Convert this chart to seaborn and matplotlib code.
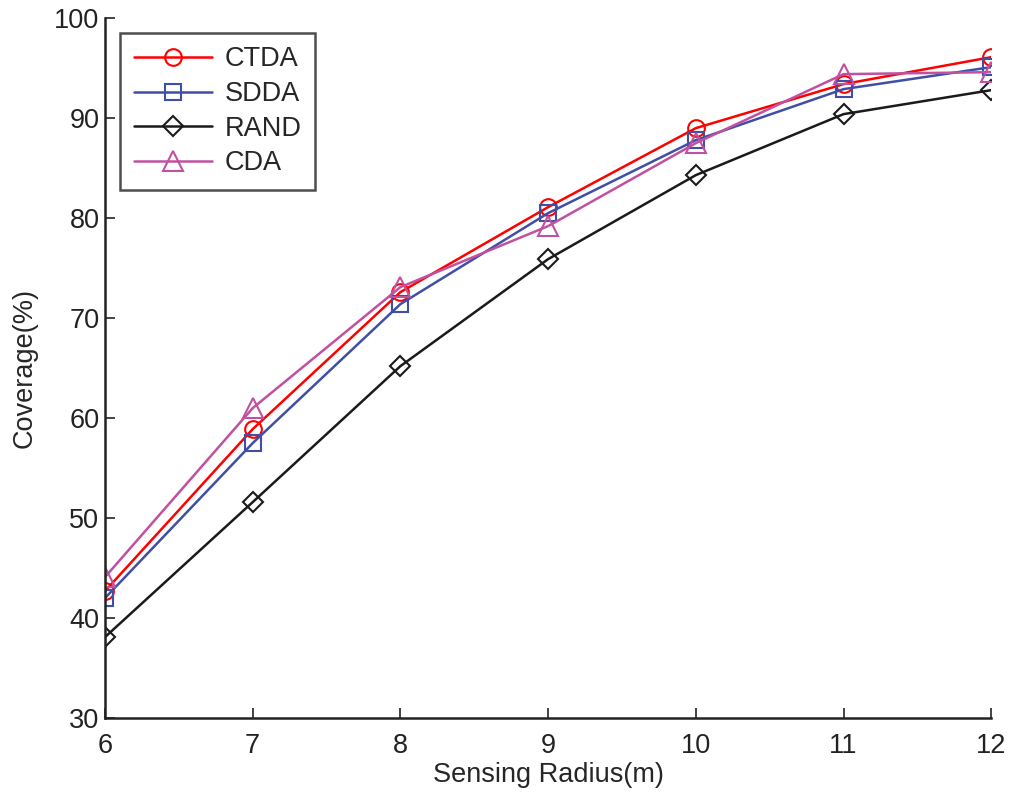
import matplotlib
matplotlib.use("Agg")
import matplotlib.pyplot as plt
import seaborn as sns
import pandas as pd

radius = [6, 7, 8, 9, 10, 11, 12]
ctda = [42.7, 58.9, 72.6, 81.1, 89.0, 93.4, 96.1]
sdda = [42.0, 57.5, 71.4, 80.5, 87.8, 92.9, 95.1]
rand = [38.1, 51.6, 65.2, 75.9, 84.3, 90.4, 92.8]
cda = [44.1, 61.0, 73.1, 79.2, 87.5, 94.4, 94.6]

names = ["CTDA", "SDDA", "RAND", "CDA"]
colors = ["#ff0000", "#3f4fa5", "#1a1a1a", "#c250a0"]
markers = ["o", "s", "D", "^"]
sizes = [12, 12, 10, 14]

df = pd.DataFrame({"radius": radius, "CTDA": ctda, "SDDA": sdda, "RAND": rand, "CDA": cda})

sns.set_style("ticks")
plt.rcParams["font.family"] = ["Liberation Sans", "DejaVu Sans"]

fig = plt.figure(figsize=(10.24, 8.06), dpi=100)
ax = fig.add_axes([0.1025, 0.109, 0.8655, 0.8685])

for name, c, m, s in zip(names, colors, markers, sizes):
    sns.lineplot(data=df, x="radius", y=name, ax=ax, color=c, marker=m,
                 markersize=s, markerfacecolor="none", markeredgecolor=c,
                 markeredgewidth=1.5, linewidth=1.8, label=name)

ax.set_xlim(6, 12)
ax.set_ylim(30, 100)
ax.set_xticks(radius)
ax.set_yticks(range(30, 101, 10))
ax.tick_params(direction="in", length=7, width=1.2, labelsize=19.5, colors="#222222")
ax.tick_params(axis="x", pad=11)
ax.tick_params(axis="y", pad=4)
for side in ["top", "right"]:
    ax.spines[side].set_visible(False)
for side in ["left", "bottom"]:
    ax.spines[side].set_linewidth(1.8)
    ax.spines[side].set_color("#222222")

ax.set_xlabel("Sensing Radius(m)", fontsize=19.5, labelpad=2)
ax.set_ylabel("Coverage(%)", fontsize=19.5, labelpad=12)

leg = ax.legend(loc="upper left", bbox_to_anchor=(0.017, 0.979), borderaxespad=0,
                fontsize=19.5, handlelength=2.9, frameon=True, fancybox=False,
                borderpad=0.5, labelspacing=0.32, handletextpad=0.45)
leg.get_frame().set_edgecolor("#222222")
leg.get_frame().set_linewidth(1.8)

fig.savefig("out.png", dpi=100)
